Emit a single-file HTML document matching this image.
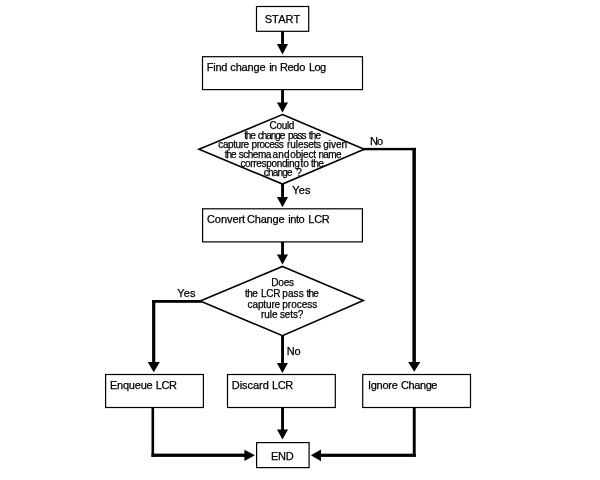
<!DOCTYPE html>
<html>
<head>
<meta charset="utf-8">
<title>Flowchart</title>
<style>
html,body{margin:0;padding:0;background:#fff;}
svg{display:block;will-change:transform;}
text{font-family:"Liberation Sans",sans-serif;fill:#000;stroke:#000;stroke-width:0.25;}
.b{fill:#fff;stroke:#000;stroke-width:1.2;}
.dm{fill:#fff;stroke:#000;stroke-width:1.6;stroke-linejoin:miter;}
.t{font-size:11px;}
.d{font-size:10px;stroke-width:0.4;}
</style>
</head>
<body>
<svg width="600" height="480" viewBox="0 0 600 480">
<rect width="600" height="480" fill="#fff"/>
<!-- lines (drawn first so box strokes sit on top) -->
<g fill="#000">
<!-- centre column shafts -->
<rect x="281.1" y="31" width="2.9" height="14"/>
<rect x="281.1" y="89" width="2.9" height="14.5"/>
<rect x="281.1" y="183.5" width="2.9" height="14.5"/>
<rect x="281.1" y="241.5" width="2.9" height="14"/>
<rect x="281.1" y="335" width="2.9" height="29"/>
<rect x="281.1" y="407.5" width="2.9" height="23"/>
<!-- No branch (right) -->
<rect x="362" y="147.9" width="53.9" height="2.4"/>
<rect x="412.4" y="147.9" width="3.5" height="215"/>
<!-- Yes branch (left) -->
<rect x="152.1" y="300" width="49.5" height="2.8"/>
<rect x="152.1" y="300" width="3.2" height="63"/>
<!-- bottom left -->
<rect x="151.5" y="407.5" width="2.6" height="49.4"/>
<rect x="151.5" y="453.6" width="94" height="3.3"/>
<!-- bottom right -->
<rect x="412.8" y="407.5" width="2.9" height="49.4"/>
<rect x="320.5" y="453.7" width="95.2" height="3.2"/>
<!-- arrow heads -->
<polygon points="276.9,44.1 288,44.1 282.5,54.4"/>
<polygon points="276.9,102.4 288,102.4 282.5,112.4"/>
<polygon points="276.9,196.9 288,196.9 282.5,207.2"/>
<polygon points="276.9,254.4 288,254.4 282.5,264.6"/>
<polygon points="276.9,363.1 287.9,363.1 282.4,372.9"/>
<polygon points="277,429.4 288,429.4 282.5,439.6"/>
<polygon points="147.7,361.9 159.8,361.9 153.75,372.3"/>
<polygon points="408.1,361.9 420.3,361.9 414.2,371.7"/>
<polygon points="244.4,449.7 244.4,461 254.9,455.35"/>
<polygon points="321,449.4 321,461.2 310.9,455.3"/>
</g>
<!-- boxes -->
<rect class="b" x="256.5" y="6.5" width="52.2" height="24.8"/>
<rect class="b" x="202.5" y="56.7" width="160" height="32.9"/>
<rect class="b" x="202.6" y="208.8" width="159.8" height="33.1"/>
<rect class="b" x="105.6" y="374.5" width="97.8" height="33"/>
<rect class="b" x="227.5" y="374.5" width="107.8" height="33"/>
<rect class="b" x="362.7" y="374.5" width="107.8" height="33"/>
<rect class="b" x="256.6" y="442.6" width="52.5" height="25"/>
<!-- diamonds -->
<polygon class="dm" points="282.5,114.5 364.2,149.3 282.5,184.1 199,149.3"/>
<polygon class="dm" points="282.5,266.4 363.3,300.6 282.5,335.7 200.2,301"/>
<!-- text -->
<g class="t">
<text y="23.0"><tspan x="264.70" letter-spacing="0.10">START</tspan></text>
<text y="70.9"><tspan x="206.80" letter-spacing="-0.27">Find</tspan> <tspan x="230.30" letter-spacing="-0.16">change</tspan> <tspan x="269.30" letter-spacing="-0.80">in</tspan> <tspan x="279.90" letter-spacing="-0.30">Redo</tspan> <tspan x="308.90" letter-spacing="-0.60">Log</tspan></text>
<text y="223"><tspan x="207.00" letter-spacing="-0.07">Convert</tspan> <tspan x="246.90" letter-spacing="-0.16">Change</tspan> <tspan x="288.30" letter-spacing="-0.47">into</tspan> <tspan x="308.30" letter-spacing="-0.25">LCR</tspan></text>
<text y="388.9"><tspan x="109.90" letter-spacing="-0.20">Enqueue</tspan> <tspan x="155.70" letter-spacing="-0.40">LCR</tspan></text>
<text y="388.9"><tspan x="231.80" letter-spacing="-0.05">Discard</tspan> <tspan x="272.10" letter-spacing="-0.50">LCR</tspan></text>
<text y="388.9"><tspan x="368.00" letter-spacing="-0.28">Ignore</tspan> <tspan x="401.10" letter-spacing="-0.44">Change</tspan></text>
<text y="459.7"><tspan x="271.00" letter-spacing="-0.30">END</tspan></text>
<text y="193.7"><tspan x="292.30" letter-spacing="0.10">Yes</tspan></text>
<text y="145"><tspan x="370.00" letter-spacing="-1.00">No</tspan></text>
<text y="297"><tspan x="177.20" letter-spacing="0.15">Yes</tspan></text>
<text y="354.7"><tspan x="286.85" letter-spacing="-0.20">No</tspan></text>
</g>
<g class="d">
<text y="128.6"><tspan x="269.50" letter-spacing="-0.31">Could</tspan></text>
<text y="138.6"><tspan x="244.20" letter-spacing="-1.10">the</tspan> <tspan x="257.70" letter-spacing="-1.02">change</tspan> <tspan x="288.05" letter-spacing="-0.87">pass</tspan> <tspan x="308.80" letter-spacing="-0.85">the</tspan></text>
<text y="147.6"><tspan x="218.35" letter-spacing="-0.42">capture</tspan> <tspan x="251.55" letter-spacing="-0.46">process</tspan> <tspan x="287.05" letter-spacing="-0.05">rule</tspan> <tspan x="303.60" letter-spacing="-0.33">sets</tspan> <tspan x="323.35" letter-spacing="-0.04">given</tspan></text>
<text y="157.5"><tspan x="224.80" letter-spacing="-1.10">the</tspan> <tspan x="238.70" letter-spacing="-0.48">schema</tspan> <tspan x="272.40" letter-spacing="0.30">and</tspan> <tspan x="290.30" letter-spacing="-0.18">object</tspan> <tspan x="318.40" letter-spacing="-0.58">name</tspan></text>
<text y="166.6"><tspan x="240.40" letter-spacing="-0.33">corresponding</tspan> <tspan x="300.60" letter-spacing="-0.20">to</tspan> <tspan x="311.10" letter-spacing="-0.55">the</tspan></text>
<text y="175.6"><tspan x="263.80" letter-spacing="-0.80">change</tspan> <tspan x="296.20">?</tspan></text>
<text y="285.6"><tspan x="271.20" letter-spacing="-0.17">Does</tspan></text>
<text y="296.7"><tspan x="245.10" letter-spacing="-0.55">the</tspan> <tspan x="260.90" letter-spacing="-0.20">LCR</tspan> <tspan x="282.30" letter-spacing="0.07">pass</tspan> <tspan x="306.50" letter-spacing="-0.85">the</tspan></text>
<text y="307.5"><tspan x="247.60" letter-spacing="-0.13">capture</tspan> <tspan x="282.30">process</tspan></text>
<text y="317.9"><tspan x="261.00" letter-spacing="-0.07">rule</tspan> <tspan x="280.00" letter-spacing="-0.13">sets?</tspan></text>
</g>
</svg>
</body>
</html>
